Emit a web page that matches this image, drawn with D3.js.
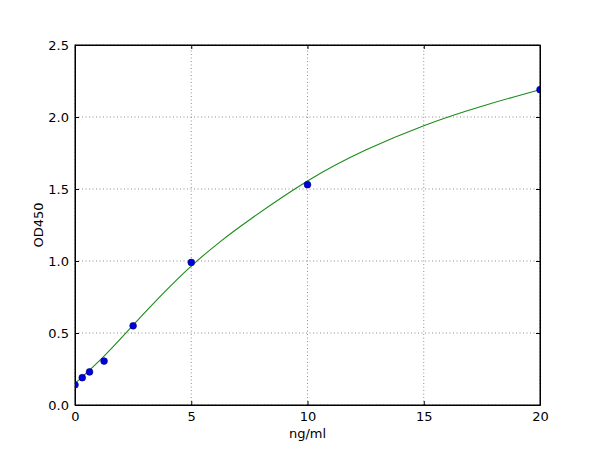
<!doctype html>
<html lang="en">
<head>
  <meta charset="utf-8">
  <title>OD450 standard curve</title>
  <style>
    body { margin: 0; background: #fff; }
    text { font-family: "DejaVu Sans", sans-serif; }
  </style>
</head>
<body>
<svg id="chart"></svg>
<script src="https://d3js.org/d3.v7.min.js"></script>
<script>
// standard points
var conc = [0, 0.3125, 0.625, 1.25, 2.5, 5, 10, 20];
var od = [0.14, 0.19, 0.23, 0.305, 0.55, 0.99, 1.53, 2.19];

// fitted curve
var fitX = [0, 1.25, 2.5, 3.75, 5, 6.25, 7.5, 10, 12.5, 15, 17.5, 20];
var fitY = [0.15, 0.34, 0.555, 0.768, 0.965, 1.135, 1.285, 1.555, 1.77, 1.94, 2.075, 2.19];

var xTicks = [0, 5, 10, 15, 20];
var yTicks = [0, 0.5, 1.0, 1.5, 2.0, 2.5];

var width = 600, height = 450;
var margin = {top: 45, right: 60, bottom: 45, left: 75};

var svg = d3.select("#chart")
  .attr("width", width)
  .attr("height", height);

var x = d3.scaleLinear().domain([0, 20]).range([margin.left, width - margin.right]);
var y = d3.scaleLinear().domain([0, 2.5]).range([height - margin.bottom, margin.top]);

svg.append("clipPath").attr("id", "plotclip")
  .append("rect")
  .attr("x", x(0)).attr("y", y(2.5))
  .attr("width", x(20) - x(0)).attr("height", y(0) - y(2.5));

// grid
var grid = svg.append("g").attr("stroke", "#444").attr("stroke-width", 0.6)
  .attr("stroke-dasharray", "1,2.5");
grid.selectAll(".gx").data(xTicks).enter().append("line")
  .attr("x1", function(d) { return x(d); }).attr("x2", function(d) { return x(d); })
  .attr("y1", y(0)).attr("y2", y(2.5));
grid.selectAll(".gy").data(yTicks).enter().append("line")
  .attr("y1", function(d) { return y(d); }).attr("y2", function(d) { return y(d); })
  .attr("x1", x(0)).attr("x2", x(20));

// axes with inward ticks
var fmtY = d3.format(".1f");
svg.append("g").attr("transform", "translate(0," + y(0) + ")")
  .call(d3.axisBottom(x).tickValues(xTicks).tickSizeInner(-4).tickSizeOuter(0).tickPadding(7));
svg.append("g").attr("transform", "translate(0," + y(2.5) + ")")
  .call(d3.axisTop(x).tickValues(xTicks).tickSizeInner(-4).tickSizeOuter(0).tickFormat(""));
svg.append("g").attr("transform", "translate(" + x(0) + ",0)")
  .call(d3.axisLeft(y).tickValues(yTicks).tickFormat(fmtY).tickSizeInner(-4).tickSizeOuter(0).tickPadding(6));
svg.append("g").attr("transform", "translate(" + x(20) + ",0)")
  .call(d3.axisRight(y).tickValues(yTicks).tickSizeInner(-4).tickSizeOuter(0).tickFormat(""));

svg.selectAll(".tick text").attr("font-size", "13px").attr("fill", "#000")
  .style("font-family", "DejaVu Sans");
svg.selectAll(".domain").attr("stroke", "#000");
svg.selectAll(".tick line").attr("stroke", "#000");

// fitted line
var fit = fitX.map(function(d, i) { return [d, fitY[i]]; });
var line = d3.line()
  .x(function(d) { return x(d[0]); })
  .y(function(d) { return y(d[1]); })
  .curve(d3.curveNatural);
svg.append("path").datum(fit)
  .attr("clip-path", "url(#plotclip)")
  .attr("d", line)
  .attr("fill", "none")
  .attr("stroke", "#1a8c1a")
  .attr("stroke-width", 1.1);

// points
svg.append("g").attr("clip-path", "url(#plotclip)")
  .selectAll("circle").data(conc).enter().append("circle")
  .attr("cx", function(d) { return x(d); })
  .attr("cy", function(d, i) { return y(od[i]); })
  .attr("r", 3.4)
  .attr("fill", "#0000e0")
  .attr("stroke", "#00007a")
  .attr("stroke-width", 0.6);

// frame on top
svg.append("rect")
  .attr("x", x(0)).attr("y", y(2.5))
  .attr("width", x(20) - x(0)).attr("height", y(0) - y(2.5))
  .attr("fill", "none").attr("stroke", "#000").attr("stroke-width", 1);

// labels
svg.append("text")
  .attr("x", (x(0) + x(20)) / 2).attr("y", 438)
  .attr("text-anchor", "middle").attr("font-size", "13px")
  .text("ng/ml");
svg.append("text")
  .attr("transform", "translate(43," + (y(0) + y(2.5)) / 2 + ") rotate(-90)")
  .attr("text-anchor", "middle").attr("font-size", "13px")
  .text("OD450");
</script>
</body>
</html>
